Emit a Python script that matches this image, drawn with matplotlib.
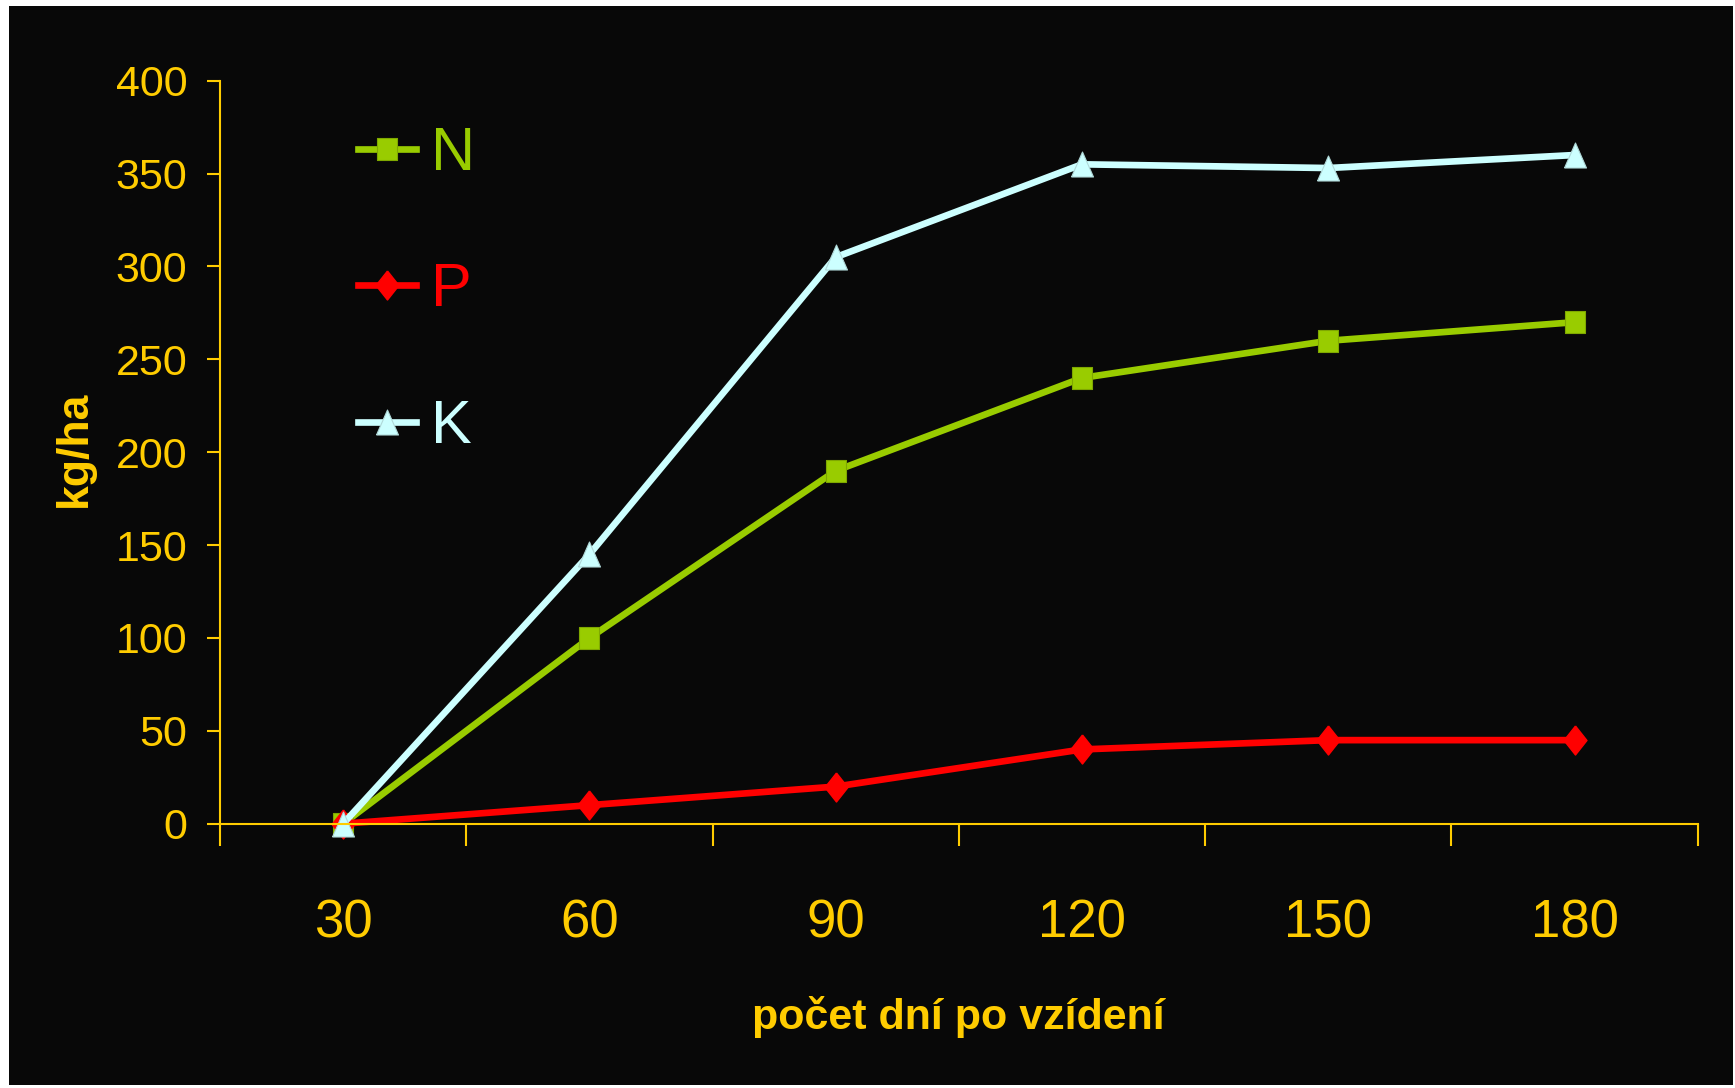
import matplotlib
matplotlib.use('Agg')
import matplotlib.pyplot as plt
from matplotlib.patches import Rectangle
import numpy as np

# 数据
days = [30, 60, 90, 120, 150, 180]
N = [0, 100, 190, 240, 260, 270]
P = [0, 10, 20, 40, 45, 45]
K = [0, 145, 305, 355, 353, 360]
y_ticks = [0, 50, 100, 150, 200, 250, 300, 350, 400]

yellow = '#FFCC00'
bg = '#080808'
fam = ['Liberation Sans', 'DejaVu Sans']
plt.rcParams['font.family'] = fam

# 标记形状
sq = [(-0.89, -1), (0.89, -1), (0.89, 1), (-0.89, 1), (-0.89, -1)]
dia = [(0, 1), (0.79, 0), (0, -1), (-0.79, 0), (0, 1)]
tri = [(-0.88, -1), (0.88, -1), (0, 1), (-0.88, -1)]

fig = plt.figure(figsize=(17.35, 10.88), dpi=100, facecolor='white')
# 黑色背景（四周留白边）
fig.add_artist(Rectangle((9 / 1735, 3 / 1088), 1724 / 1735, 1079 / 1088,
                         transform=fig.transFigure, facecolor=bg,
                         edgecolor='none', zorder=-10))

ax = fig.add_axes([0.1268, 0.2429, 0.8517, 0.6829])
ax.set_facecolor('none')

x = np.arange(len(days)) + 0.5
ax.plot(x, N, color='#99CC00', lw=4.8, marker=sq, markersize=15.6,
        markeredgecolor='#7FA800', markeredgewidth=0.8, label='N',
        clip_on=False)
ax.plot(x, P, color='#FF0000', lw=4.8, marker=dia, markersize=20.9,
        markeredgecolor='#FF0000', label='P', clip_on=False)
ax.plot(x, K, color='#CCFFFF', lw=4.8, marker=tri, markersize=18,
        markeredgecolor='#B0D8D8', markeredgewidth=0.8, label='K', clip_on=False)

ax.set_xlim(0, len(days))
ax.set_ylim(0, 400)

# 坐标轴
for s in ['top', 'right']:
    ax.spines[s].set_visible(False)
for s in ['left', 'bottom']:
    ax.spines[s].set_color(yellow)
    ax.spines[s].set_linewidth(1.5)

ax.set_yticks(y_ticks)
ax.set_yticklabels([str(v) for v in y_ticks])
ax.tick_params(axis='y', direction='out', length=9.4, width=1.5, color=yellow,
               labelcolor=yellow, labelsize=31, pad=14)

ax.set_xticks(np.arange(len(days) + 1))
ax.set_xticklabels([])
ax.set_xticks(x, minor=True)
ax.set_xticklabels([str(d) for d in days], minor=True)
ax.tick_params(axis='x', which='major', direction='out', length=15.8, width=1.5,
               color=yellow)
ax.tick_params(axis='x', which='minor', length=0, labelcolor=yellow,
               labelsize=38, pad=54)

# 轴标题
fig.text(958 / 1735, 1 - 1029 / 1088, 'počet dní po vzídení', color=yellow,
         fontsize=31, fontweight='bold', ha='center', va='baseline')
fig.text(74 / 1735, 1 - 449 / 1088, 'kg/ha', color=yellow, fontsize=32,
         fontweight='bold', ha='center', va='center', rotation=90)

# 图例
leg = ax.legend(loc='center left', bbox_to_anchor=(358 / 1735, 1 - 291 / 1088),
                bbox_transform=fig.transFigure, frameon=False, fontsize=44,
                handlelength=0.95, handletextpad=0.24, labelspacing=1.3,
                borderpad=0, borderaxespad=0, numpoints=1,
                labelcolor='linecolor')

fig.savefig('out.png', dpi=100, facecolor='white')
